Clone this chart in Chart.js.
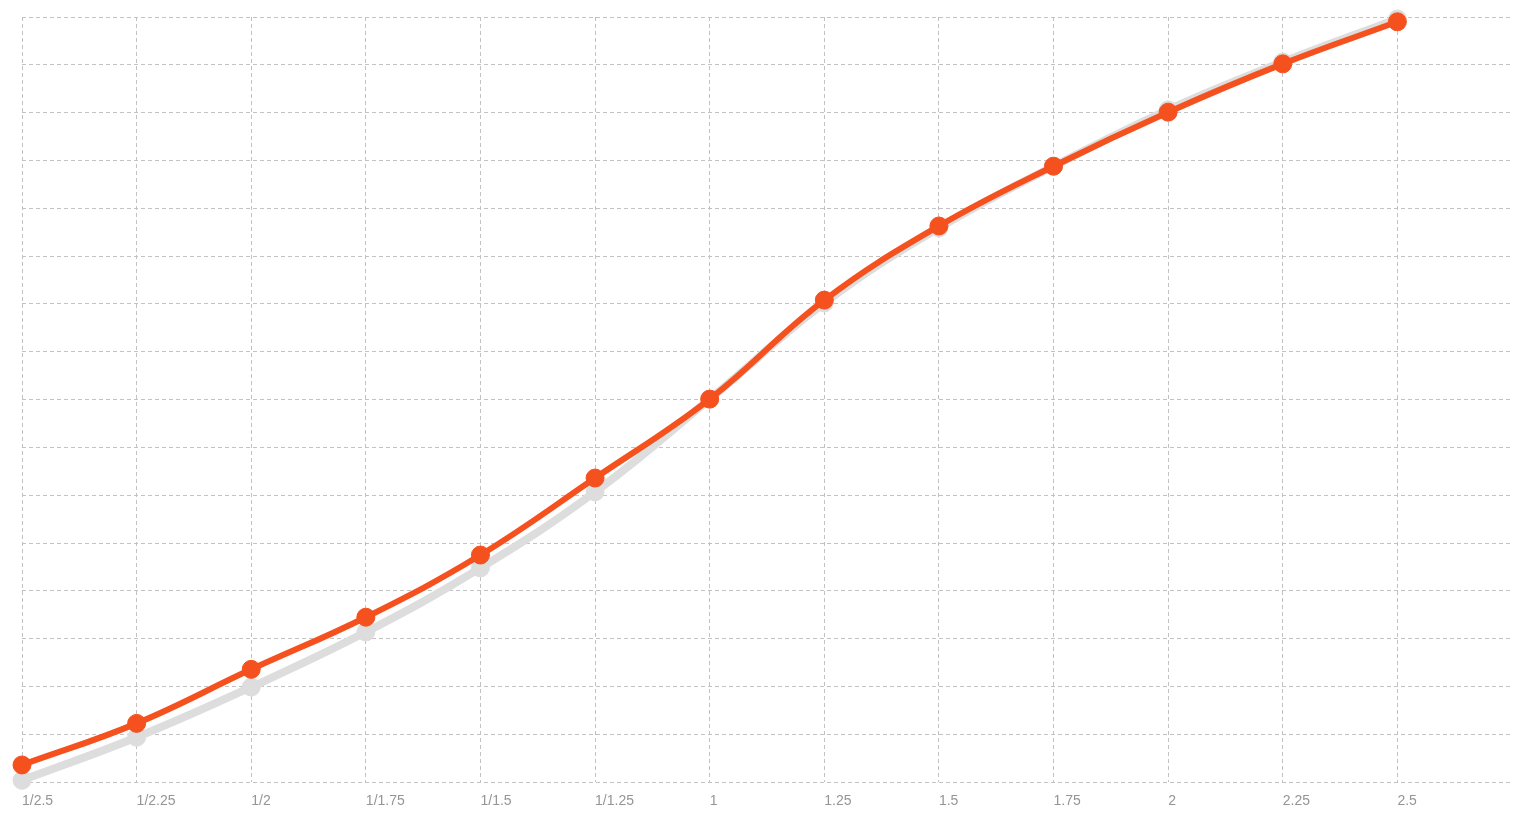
<!DOCTYPE html>
<html>
<head>
<meta charset="utf-8">
<title>Ratio curve</title>
<script src="https://cdn.jsdelivr.net/npm/chart.js@4/dist/chart.umd.min.js"></script>
<style>
    html, body { margin: 0; padding: 0; background: #fff; overflow: hidden; }
    #wrap { width: 1527px; height: 816px; position: relative; }
</style>
</head>
<body>
<div id="wrap"><canvas id="ratioChart"></canvas></div>
<script>
// x categories (ratio steps)
const ratioLabels = ['1/2.5', '1/2.25', '1/2', '1/1.75', '1/1.5', '1/1.25', '1', '1.25', '1.5', '1.75', '2', '2.25', '2.5'];

// orange curve (front)
const curveValues = [0.36, 1.23, 2.36, 3.45, 4.75, 6.36, 8.01, 10.08, 11.63, 12.88, 14.01, 15.02, 15.90];

// grey curve (behind)
const baseValues = [0.04, 0.94, 1.99, 3.14, 4.48, 6.07, 8.01, 10.02, 11.59, 12.88, 14.06, 15.06, 15.96];

const yMax = 16;

function toPoints(values) {
    return values.map((v, i) => ({ x: i, y: v }));
}

document.addEventListener('DOMContentLoaded', function() {
    const ctx = document.getElementById('ratioChart');

    new Chart(ctx, {
        type: 'line',
        data: {
            datasets: [
                {
                    label: 'curve',
                    data: toPoints(curveValues),
                    borderColor: '#f4511e',
                    backgroundColor: '#f4511e',
                    borderWidth: 6,
                    pointRadius: 9,
                    pointBorderWidth: 1,
                    pointBackgroundColor: '#f4511e',
                    pointBorderColor: '#f4511e',
                    tension: 0.4,
                    clip: false,
                    order: 1
                },
                {
                    label: 'base',
                    data: toPoints(baseValues),
                    borderColor: '#dddddd',
                    backgroundColor: '#dddddd',
                    borderWidth: 8,
                    pointRadius: 9,
                    pointBorderWidth: 1,
                    pointBackgroundColor: '#dddddd',
                    pointBorderColor: '#dddddd',
                    tension: 0.4,
                    clip: false,
                    order: 2
                }
            ]
        },
        options: {
            responsive: true,
            maintainAspectRatio: false,
            animation: false,
            layout: {
                padding: { left: 22, right: 15, top: 17, bottom: -5 }
            },
            plugins: {
                legend: { display: false },
                tooltip: { enabled: false }
            },
            scales: {
                x: {
                    type: 'linear',
                    min: 0,
                    max: ratioLabels.length,
                    afterBuildTicks: function(scale) {
                        scale.ticks = ratioLabels.map((_, i) => ({ value: i }));
                    },
                    border: { display: false },
                    grid: {
                        color: '#c2c2c2',
                        lineWidth: 1,
                        drawTicks: false
                    },
                    ticks: {
                        align: 'start',
                        padding: 11,
                        color: '#959595',
                        maxRotation: 0,
                        autoSkip: false,
                        font: { family: 'Liberation Sans, Arial, sans-serif', size: 14 },
                        callback: function(value) {
                            return ratioLabels[value];
                        }
                    }
                },
                y: {
                    min: 0,
                    max: yMax,
                    border: { display: false, dash: [4, 3] },
                    grid: {
                        color: '#c2c2c2',
                        lineWidth: 1,
                        drawTicks: false
                    },
                    ticks: {
                        display: false,
                        stepSize: 1
                    }
                }
            }
        },
        plugins: [{
            id: 'dashedGrid',
            beforeDraw: function(chart) {
                chart.scales.x.options.border.dash = [4, 3];
            }
        }]
    });
});
</script>
</body>
</html>
